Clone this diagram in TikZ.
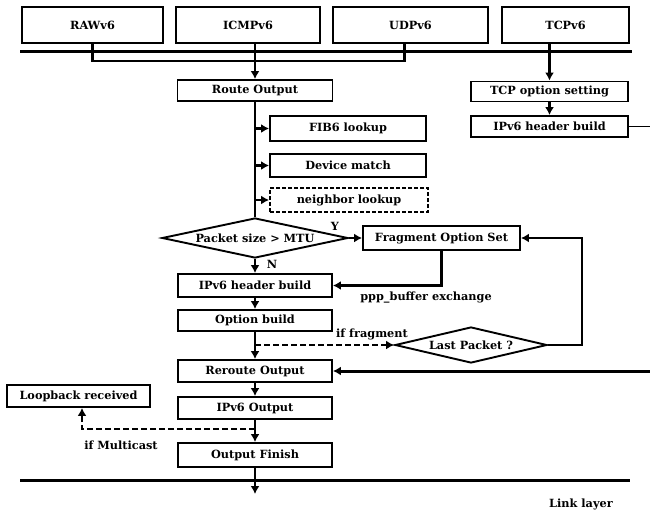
\documentclass[tikz,border=0pt]{standalone}
\usepackage{fontspec}
\setmainfont{DejaVu Serif}
\usetikzlibrary{arrows.meta,shapes.geometric}
\begin{document}
\begin{tikzpicture}[x=1pt,y=-1pt,
  font=\fontsize{11.3}{13}\selectfont\bfseries,
  box/.style={draw,line width=1.9pt,inner sep=0pt,rectangle},
  dbox/.style={box,dash pattern=on 4pt off 2pt},
  dec/.style={draw,line width=1.9pt,shape=diamond,inner sep=0pt},
  wire/.style={line width=2.6pt},
  arr/.style={wire,-{Latex[length=8pt,width=9pt]}},
  darr/.style={line width=2.3pt,dash pattern=on 6pt off 3pt,-{Latex[length=8pt,width=9pt]}},
  bar/.style={line width=3pt},
  lbl/.style={inner sep=0pt}
]
\useasboundingbox (0,0) rectangle (650,509);

% transport protocols
\node[box,minimum width=141pt,minimum height=36pt] (raw)  at (92.5,25)  {RAWv6};
\node[box,minimum width=144pt,minimum height=36pt] (icmp) at (248,25)   {ICMPv6};
\node[box,minimum width=155pt,minimum height=36pt] (udp)  at (410.5,25) {UDPv6};
\node[box,minimum width=127pt,minimum height=36pt] (tcp)  at (565.5,25) {TCPv6};

\coordinate (sepL) at (20,51);
\coordinate (sepR) at (632,51);
\draw[bar] (sepL) -- (sepR);

% TCP path
\node[box,minimum width=157pt,minimum height=20pt] (tcpopt) at (549.5,91.5)  {TCP option setting};
\node[box,minimum width=157pt,minimum height=21pt] (tcphdr) at (549.5,126.5) {IPv6 header build};

% output path
\node[box,minimum width=155pt,minimum height=21pt] (route) at (255,90.5) {Route Output};
\node[box,minimum width=156pt,minimum height=25pt] (fib)   at (348,128.5) {FIB6 lookup};
\node[box,minimum width=156pt,minimum height=23pt] (dev)   at (348,165.5) {Device match};
\node[dbox,minimum width=158pt,minimum height=24pt] (nei)  at (349,200)   {neighbor lookup};
\node[dec,aspect=4.65,minimum width=186pt,minimum height=40pt] (pkt) at (255,238) {Packet size > MTU};
\node[box,minimum width=157pt,minimum height=24pt] (frag)  at (441.5,238) {Fragment Option Set};
\node[box,minimum width=154pt,minimum height=23pt] (hdr)   at (255,285.5) {IPv6 header build};
\node[box,minimum width=154pt,minimum height=21pt] (opt)   at (255,320.5) {Option build};
\node[dec,aspect=4.2,minimum width=152pt,minimum height=36pt] (last) at (471,345) {Last Packet ?};
\node[box,minimum width=154pt,minimum height=22pt] (reroute) at (255,371) {Reroute Output};
\node[box,minimum width=143pt,minimum height=22pt] (loop)  at (78.5,396) {Loopback received};
\node[box,minimum width=154pt,minimum height=22pt] (ipout) at (255,408)  {IPv6 Output};
\node[box,minimum width=154pt,minimum height=24pt] (fin)   at (255,455)  {Output Finish};

% link layer boundary
\coordinate (botL) at (20,480);
\coordinate (botR) at (630,480);
\draw[bar] (botL) -- (botR);

% helper points
\coordinate (bus)  at (255,61);
\coordinate (tcpx) at (650,126.5);
\coordinate (rin)  at (650,371);
\coordinate (lr)   at (582,238);
\coordinate (fr)   at (255,345);
\coordinate (mc)   at (255,429);
\coordinate (mcl)  at (82,429);
\coordinate (ll)   at (255,494);

% connectors
\draw[wire] (raw.south) |- (bus) -| ([xshift=-6pt]udp.south);
\draw[arr] (icmp.south -| route.north) -- (route.north);
\draw[arr] (tcp.south -| tcpopt.north) -- (tcpopt.north);
\draw[arr] (tcpopt.south) -- (tcphdr.north);
\draw[line width=1.6pt] (tcphdr.east) -- (tcpx);

\draw[wire] (route.south) -- (pkt.north);
\draw[arr] (route.south |- fib.west) -- (fib.west);
\draw[arr] (route.south |- dev.west) -- (dev.west);
\draw[arr] (route.south |- nei.west) -- (nei.west);

\draw[arr] (pkt.east) -- (frag.west);
\draw[arr] (pkt.south) -- (hdr.north);
\draw[arr] (frag.south) |- (hdr.east);
\draw[arr] (hdr.south) -- (opt.north);
\draw[arr] (opt.south) -- (reroute.north);
\draw[darr] (fr) -- (last.west);
\draw[arr] (last.east) -| (lr) -- (frag.east);
\draw[arr,line width=3pt] (rin) -- (reroute.east);

\draw[arr] (reroute.south) -- (ipout.north);
\draw[arr] (ipout.south) -- (fin.north);
\draw[darr] (mc) -- (mcl) -- (mcl |- loop.south);
\draw[arr] (fin.south) -- (ll);

% labels
\node[lbl] (ylbl) at (335,226) {Y};
\node[lbl] (nlbl) at (272,264) {N};
\node[lbl] (ppp)  at (426,298) {ppp\_buffer exchange};
\node[lbl] (iff)  at (372,334) {if fragment};
\node[lbl] (ifm)  at (121,445) {if Multicast};
\node[lbl] (link) at (581,504) {Link layer};
\end{tikzpicture}
\end{document}
